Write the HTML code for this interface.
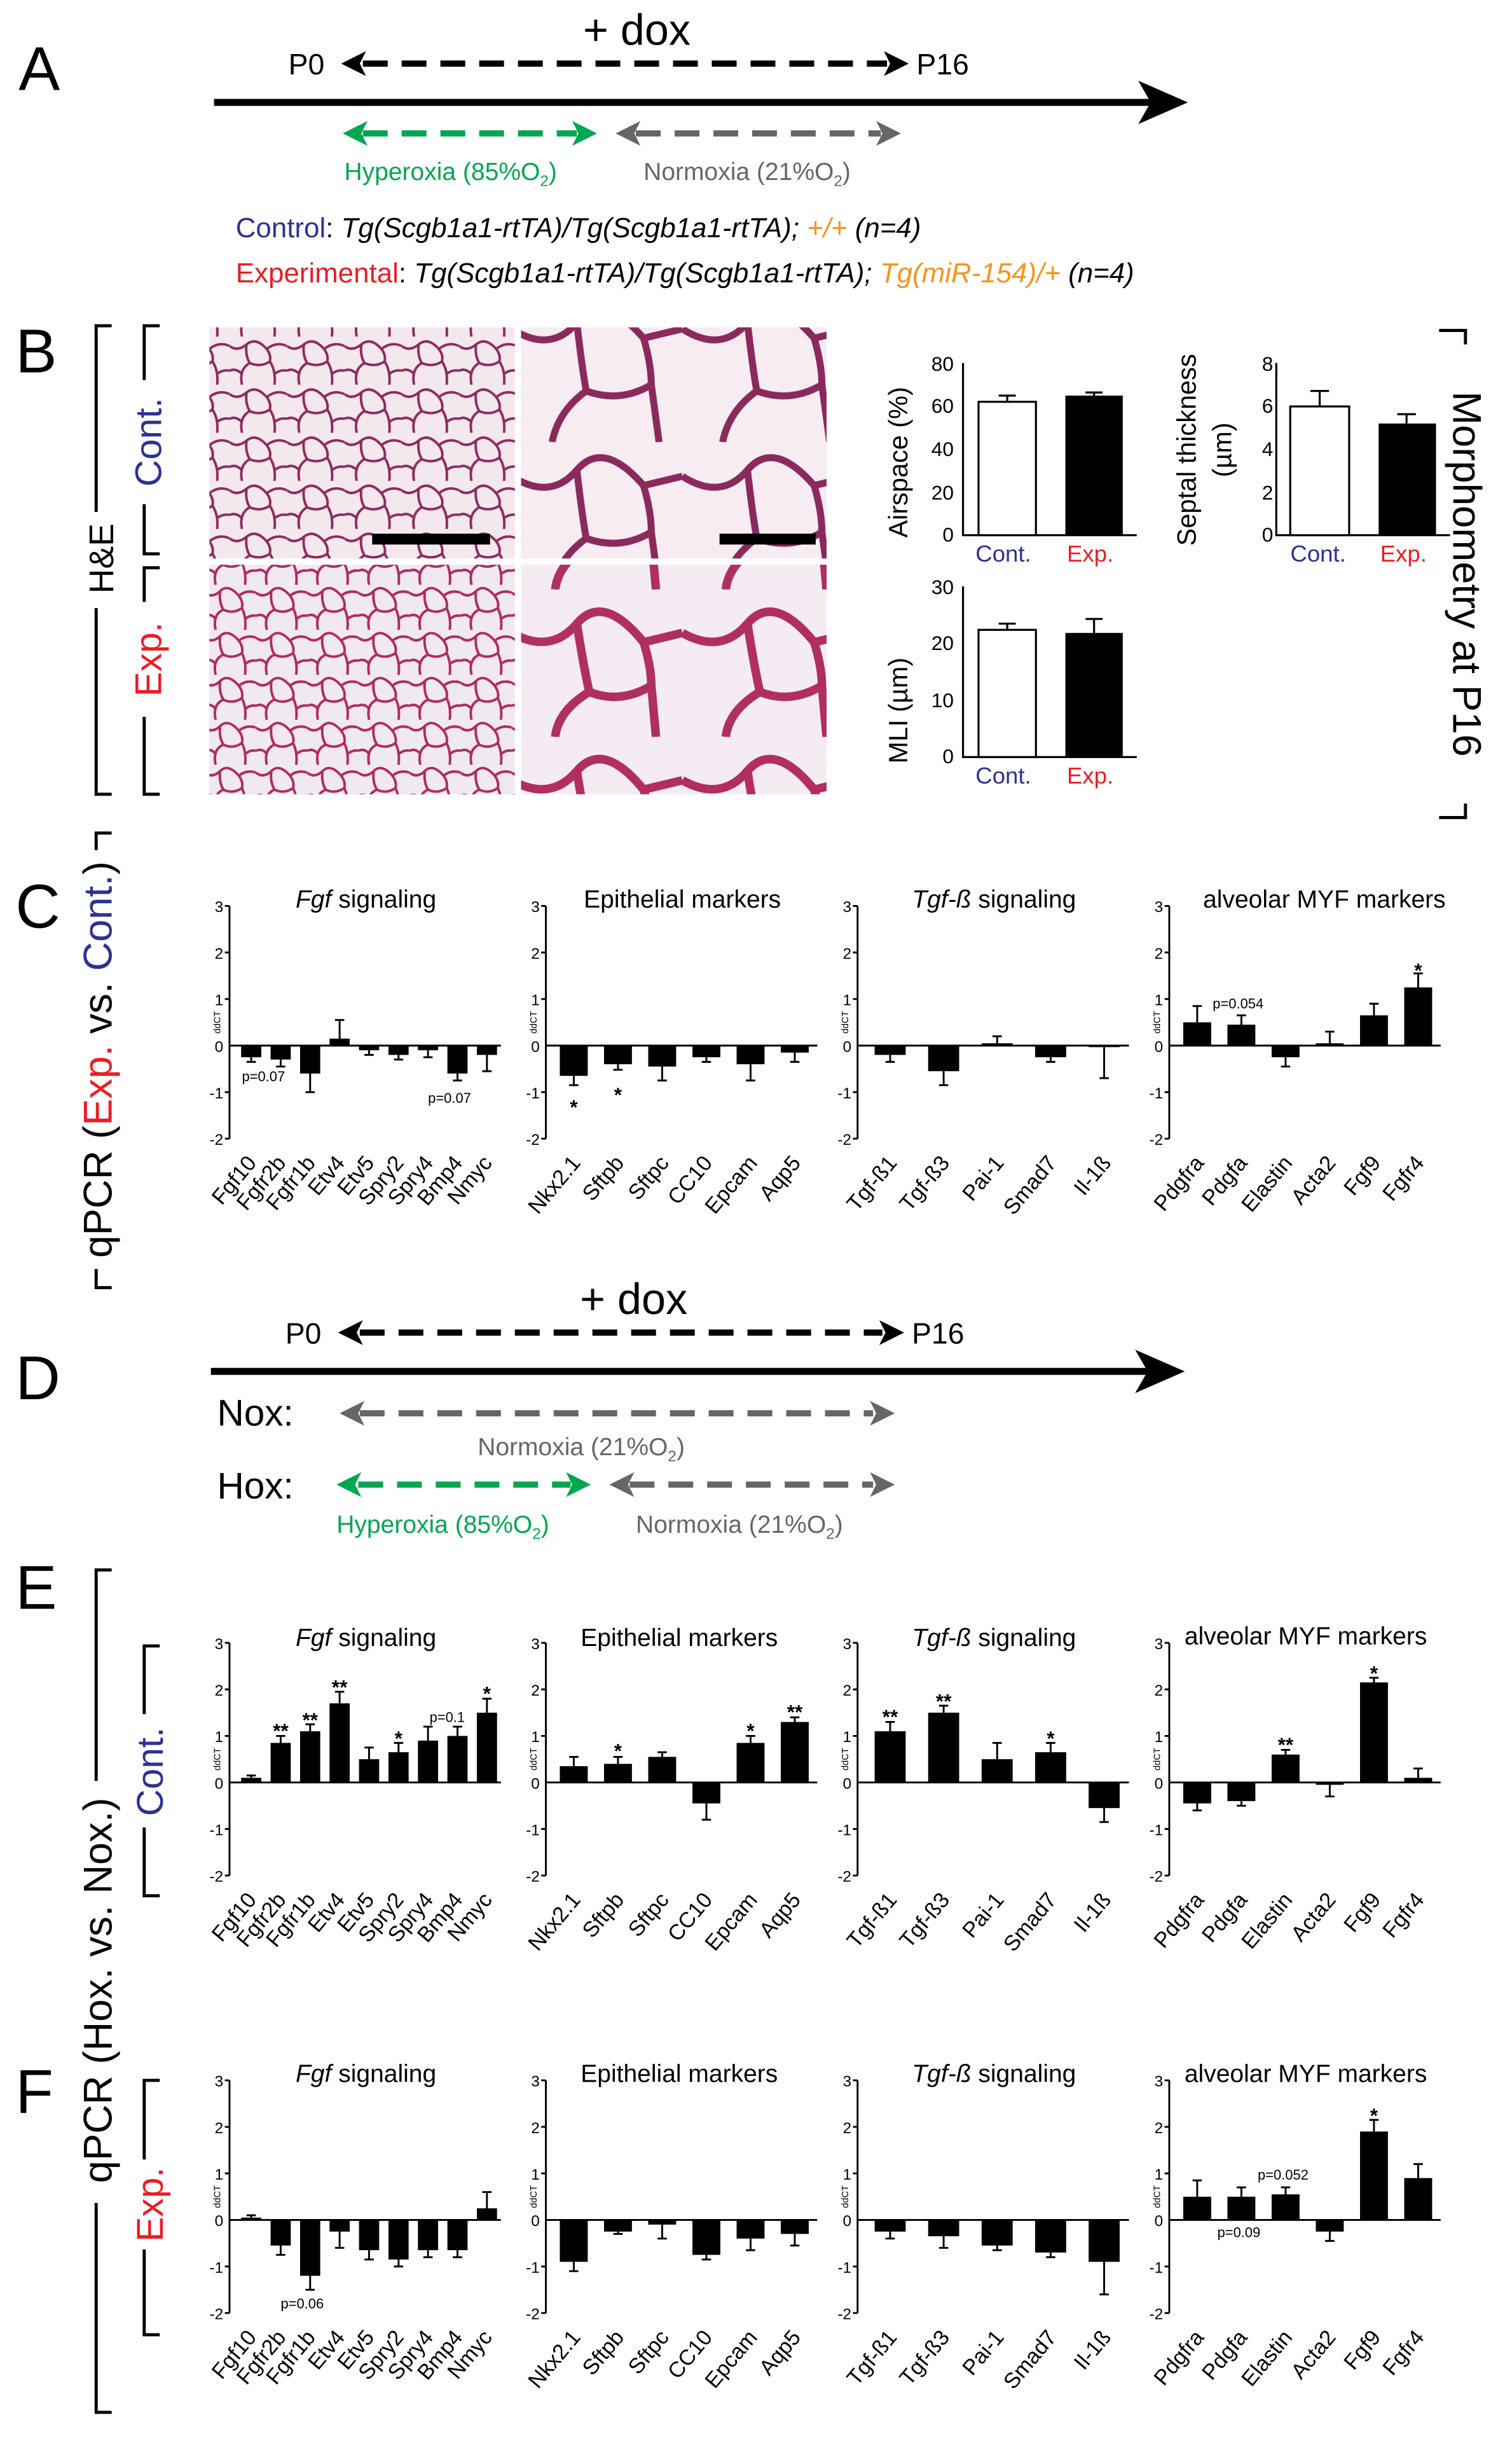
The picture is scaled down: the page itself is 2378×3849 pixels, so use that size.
<!DOCTYPE html>
<html><head><meta charset="utf-8"><style>
html,body{margin:0;padding:0;background:#fff}
svg{display:block}
text{font-family:"Liberation Sans",sans-serif}
.t{font-size:10px}
.xl{font-size:14px}
.ti{font-size:16px}
.st{font-size:13px;font-weight:bold}
</style></head><body>
<svg width="2378" height="3849" viewBox="0 0 975 1578" preserveAspectRatio="none" xmlns="http://www.w3.org/2000/svg">
<defs>
<pattern id="lo" width="37" height="31" patternUnits="userSpaceOnUse">
<rect width="37" height="31" fill="#f4e8ef"/>
<path d="M0 6 Q5 10 11 5 T24 8 Q30 3 37 6 M11 5 Q10 12 13 17 Q6 21 8 31 M13 17 Q20 20 26 16 Q30 22 29 31 M24 8 Q27 12 26 16 M0 22 Q4 20 8 24 M29 24 Q33 21 37 22" stroke="#8e2a5c" stroke-width="1.6" fill="none"/>
</pattern>
<pattern id="lo2" width="33" height="29" patternUnits="userSpaceOnUse">
<rect width="33" height="29" fill="#f1e9f1"/>
<path d="M0 5 Q5 9 10 4 T22 7 Q27 3 33 5 M10 4 Q9 11 12 16 Q5 19 7 29 M12 16 Q18 19 24 15 Q27 21 26 29 M22 7 Q25 11 24 15 M0 20 Q4 18 7 22 M26 22 Q30 19 33 20" stroke="#b02a5e" stroke-width="1.6" fill="none"/>
</pattern>
<pattern id="hi" width="110" height="95" patternUnits="userSpaceOnUse">
<rect width="110" height="95" fill="#f6ecf1"/>
<path d="M0 22 Q25 38 42 18 T85 28 L110 22 M42 18 Q45 45 48 62 Q30 75 26 95 M48 62 Q70 70 90 58 L95 95 M85 28 Q90 45 90 58" stroke="#8a2a5c" stroke-width="4.5" fill="none"/>
</pattern>
<pattern id="hi2" width="110" height="95" patternUnits="userSpaceOnUse">
<rect width="110" height="95" fill="#f4ecf2"/>
<path d="M0 28 Q25 42 42 22 T85 34 L110 28 M42 22 Q46 48 50 66 Q30 78 28 95 M50 66 Q70 74 90 62 L93 95 M85 34 Q90 50 90 62" stroke="#b02f60" stroke-width="5.5" fill="none"/>
</pattern>
</defs>

<!-- Panel A -->
<text x="12" y="58" font-size="40">A</text>
<text x="376" y="29" font-size="28">+ dox</text>
<text x="186" y="48" font-size="19">P0</text>
<line x1="234" y1="41" x2="572" y2="41" stroke="#000" stroke-width="4" stroke-dasharray="16 9"/>
<polygon points="220,41 236,33 232,41 236,49" fill="#000"/>
<polygon points="586,41 570,33 574,41 570,49" fill="#000"/>
<text x="591" y="48" font-size="19">P16</text>
<line x1="138" y1="66" x2="742" y2="66" stroke="#000" stroke-width="4.5"/>
<polygon points="766,66 734,52 742,66 734,80" fill="#000"/>
<line x1="234" y1="86" x2="372" y2="86" stroke="#00a651" stroke-width="4" stroke-dasharray="16 9"/>
<polygon points="221,86 237,78 233,86 237,94" fill="#00a651"/>
<polygon points="385,86 369,78 373,86 369,94" fill="#00a651"/>
<line x1="410" y1="86" x2="568" y2="86" stroke="#666" stroke-width="4" stroke-dasharray="16 9"/>
<polygon points="397,86 413,78 409,86 413,94" fill="#666"/>
<polygon points="581,86 565,78 569,86 565,94" fill="#666"/>
<text x="222" y="116" font-size="16" fill="#00a651">Hyperoxia (85%O<tspan font-size="10" dy="4">2</tspan><tspan dy="-4">)</tspan></text>
<text x="415" y="116" font-size="16" fill="#666">Normoxia (21%O<tspan font-size="10" dy="4">2</tspan><tspan dy="-4">)</tspan></text>
<text x="152" y="153" font-size="18"><tspan fill="#2e3192">Control</tspan>: <tspan font-style="italic">Tg(Scgb1a1-rtTA)/Tg(Scgb1a1-rtTA); <tspan fill="#f7941d">+/+</tspan> (n=4)</tspan></text>
<text x="152" y="182" font-size="18"><tspan fill="#ed1c24">Experimental</tspan>: <tspan font-style="italic">Tg(Scgb1a1-rtTA)/Tg(Scgb1a1-rtTA); <tspan fill="#f7941d">Tg(miR-154)/+</tspan> (n=4)</tspan></text>

<!-- Panel B -->
<text x="10" y="240" font-size="40">B</text>
<path d="M72 210 H62 V330 M62 392 V512 H72" stroke="#000" stroke-width="2" fill="none"/>
<text transform="translate(73,360) rotate(-90)" text-anchor="middle" font-size="22">H&amp;E</text>
<path d="M103 210 H93 V245 M93 325 V357 H103" stroke="#000" stroke-width="2" fill="none"/>
<text transform="translate(104,285) rotate(-90)" text-anchor="middle" font-size="24" fill="#2e3192">Cont.</text>
<path d="M103 366 H93 V388 M93 462 V512 H103" stroke="#000" stroke-width="2" fill="none"/>
<text transform="translate(104,425) rotate(-90)" text-anchor="middle" font-size="24" fill="#ed1c24">Exp.</text>
<rect x="135" y="211" width="197" height="149" fill="url(#lo)"/>
<rect x="336" y="211" width="197" height="149" fill="url(#hi)"/>
<rect x="135" y="364" width="197" height="148" fill="url(#lo2)"/>
<rect x="336" y="364" width="197" height="148" fill="url(#hi2)"/>
<rect x="240" y="344" width="76" height="7" fill="#000"/>
<rect x="464" y="344" width="62" height="7" fill="#000"/>

<g font-size="13" text-anchor="end">
<text x="615" y="239">80</text><text x="615" y="266">60</text><text x="615" y="294">40</text><text x="615" y="322">20</text><text x="615" y="349">0</text>
<text x="821" y="239">8</text><text x="821" y="266">6</text><text x="821" y="294">4</text><text x="821" y="322">2</text><text x="821" y="349">0</text>
<text x="615" y="383">30</text><text x="615" y="419">20</text><text x="615" y="456">10</text><text x="615" y="492">0</text>
</g>
<path d="M621 234 V345 H733" stroke="#000" stroke-width="1.3" fill="none"/>
<rect x="631" y="259" width="37" height="86" fill="#fff" stroke="#000" stroke-width="1.3"/>
<path d="M649.5 259 V255 M644 255 H655" stroke="#000" stroke-width="1.3"/>
<rect x="687" y="255" width="37" height="90" fill="#000"/>
<path d="M705.5 255 V253 M700 253 H711" stroke="#000" stroke-width="1.3"/>
<path d="M823 234 V345 H935" stroke="#000" stroke-width="1.3" fill="none"/>
<rect x="832" y="262" width="38" height="83" fill="#fff" stroke="#000" stroke-width="1.3"/>
<path d="M851 262 V252 M845 252 H857" stroke="#000" stroke-width="1.3"/>
<rect x="889" y="273" width="37" height="72" fill="#000"/>
<path d="M907 273 V267 M901 267 H913" stroke="#000" stroke-width="1.3"/>
<path d="M621 378 V488 H733" stroke="#000" stroke-width="1.3" fill="none"/>
<rect x="631" y="406" width="37" height="82" fill="#fff" stroke="#000" stroke-width="1.3"/>
<path d="M649.5 406 V402 M644 402 H655" stroke="#000" stroke-width="1.3"/>
<rect x="687" y="408" width="37" height="80" fill="#000"/>
<path d="M705.5 408 V399 M700 399 H711" stroke="#000" stroke-width="1.3"/>
<g font-size="17" text-anchor="middle">
<text transform="translate(585,298) rotate(-90)">Airspace (%)</text>
<text transform="translate(771,290) rotate(-90)">Septal thickness</text>
<text transform="translate(794,290) rotate(-90)">(µm)</text>
<text transform="translate(585,458) rotate(-90)">MLI (µm)</text>
</g>
<g font-size="15" text-anchor="middle">
<text x="647" y="362" fill="#2e3192">Cont.</text><text x="703" y="362" fill="#ed1c24">Exp.</text>
<text x="850" y="362" fill="#2e3192">Cont.</text><text x="905" y="362" fill="#ed1c24">Exp.</text>
<text x="647" y="505" fill="#2e3192">Cont.</text><text x="703" y="505" fill="#ed1c24">Exp.</text>
</g>
<path d="M928 213 H945 V222 M945 518 V527 H928" stroke="#000" stroke-width="2" fill="none"/>
<text transform="translate(937,370) rotate(90)" text-anchor="middle" font-size="26">Morphometry at P16</text>

<!-- Panel C -->
<text x="10" y="598" font-size="40">C</text>
<path d="M72 537 H62 V548 M62 818 V830 H72" stroke="#000" stroke-width="2" fill="none"/>
<text transform="translate(72,683) rotate(-90)" text-anchor="middle" font-size="26">qPCR (<tspan fill="#ed1c24">Exp.</tspan> vs. <tspan fill="#2e3192">Cont.</tspan>)</text>

<!-- chart C1 -->
<g transform="translate(148,674)">
<path d="M0 -90 V60 M0 0 H175 M-3 -90 H0 M-3 -60 H0 M-3 -30 H0 M-3 30 H0 M-3 60 H0" stroke="#000" stroke-width="1.2" fill="none"/>
<g class="t" text-anchor="end"><text x="-4" y="-86">3</text><text x="-4" y="-56">2</text><text x="-4" y="-26">1</text><text x="-4" y="4">0</text><text x="-4" y="34">-1</text><text x="-4" y="64">-2</text></g>
<text transform="translate(-6,-15) rotate(-90)" font-size="6" text-anchor="middle">ddCT</text>
<text x="88" y="-89" class="ti" text-anchor="middle"><tspan font-style="italic">Fgf</tspan> signaling</text>
<g fill="#000">
<rect x="7.5" y="0" width="13" height="7.5"/><rect x="26.5" y="0" width="13" height="9"/><rect x="45.5" y="0" width="13" height="18"/><rect x="64.5" y="-4.5" width="13" height="4.5"/><rect x="83.5" y="0" width="13" height="3"/><rect x="102.5" y="0" width="13" height="6"/><rect x="121.5" y="0" width="13" height="3"/><rect x="140.5" y="0" width="13" height="18"/><rect x="159.5" y="0" width="13" height="6"/>
</g>
<path d="M14 7 V10.5 M11 10.5 H17 M33 9 V13.5 M30 13.5 H36 M52 18 V30 M49 30 H55 M71 0 V-16.5 M68 -16.5 H74 M90 3 V6 M87 6 H93 M109 6 V9 M106 9 H112 M128 3 V7.5 M125 7.5 H131 M147 18 V22.5 M144 22.5 H150 M166 6 V16.5 M163 16.5 H169" stroke="#000" stroke-width="1.2"/>
<text x="8" y="23" font-size="9">p=0.07</text><text x="128" y="37" font-size="9">p=0.07</text>
<g class="xl" text-anchor="end">
<text transform="translate(18,76) rotate(-50)">Fgf10</text><text transform="translate(37,76) rotate(-50)">Fgfr2b</text><text transform="translate(56,76) rotate(-50)">Fgfr1b</text><text transform="translate(75,76) rotate(-50)">Etv4</text><text transform="translate(94,76) rotate(-50)">Etv5</text><text transform="translate(113,76) rotate(-50)">Spry2</text><text transform="translate(132,76) rotate(-50)">Spry4</text><text transform="translate(151,76) rotate(-50)">Bmp4</text><text transform="translate(170,76) rotate(-50)">Nmyc</text>
</g>
</g>

<!-- chart C2 -->
<g transform="translate(352,674)">
<path d="M0 -90 V60 M0 0 H175 M-3 -90 H0 M-3 -60 H0 M-3 -30 H0 M-3 30 H0 M-3 60 H0" stroke="#000" stroke-width="1.2" fill="none"/>
<g class="t" text-anchor="end"><text x="-4" y="-86">3</text><text x="-4" y="-56">2</text><text x="-4" y="-26">1</text><text x="-4" y="4">0</text><text x="-4" y="34">-1</text><text x="-4" y="64">-2</text></g>
<text transform="translate(-6,-15) rotate(-90)" font-size="6" text-anchor="middle">ddCT</text>
<text x="88" y="-89" class="ti" text-anchor="middle">Epithelial markers</text>
<g fill="#000"><rect x="9" y="0" width="18" height="19.5"/><rect x="37.5" y="0" width="18" height="12"/><rect x="66" y="0" width="18" height="13.5"/><rect x="94.5" y="0" width="18" height="7.5"/><rect x="123" y="0" width="18" height="12"/><rect x="151.5" y="0" width="18" height="4.5"/></g>
<path d="M18 19 V25.5 M15 25.5 H21 M46.5 12 V15.6 M43.5 15.6 H49.5 M75 13 V22.5 M72 22.5 H78 M103.5 7 V10.5 M100.5 10.5 H106.5 M132 12 V22.5 M129 22.5 H135 M160.5 4 V10.5 M157.5 10.5 H163.5" stroke="#000" stroke-width="1.2"/>
<text x="18" y="44" class="st" text-anchor="middle">*</text><text x="46.5" y="36" class="st" text-anchor="middle">*</text>
<g class="xl" text-anchor="end">
<text transform="translate(23,76) rotate(-50)">Nkx2.1</text><text transform="translate(51,76) rotate(-50)">Sftpb</text><text transform="translate(80,76) rotate(-50)">Sftpc</text><text transform="translate(108,76) rotate(-50)">CC10</text><text transform="translate(137,76) rotate(-50)">Epcam</text><text transform="translate(165,76) rotate(-50)">Aqp5</text>
</g>
</g>

<!-- chart C3 -->
<g transform="translate(553,674)">
<path d="M0 -90 V60 M0 0 H175 M-3 -90 H0 M-3 -60 H0 M-3 -30 H0 M-3 30 H0 M-3 60 H0" stroke="#000" stroke-width="1.2" fill="none"/>
<g class="t" text-anchor="end"><text x="-4" y="-86">3</text><text x="-4" y="-56">2</text><text x="-4" y="-26">1</text><text x="-4" y="4">0</text><text x="-4" y="34">-1</text><text x="-4" y="64">-2</text></g>
<text transform="translate(-6,-15) rotate(-90)" font-size="6" text-anchor="middle">ddCT</text>
<text x="88" y="-89" class="ti" text-anchor="middle"><tspan font-style="italic">Tgf-ß</tspan> signaling</text>
<g fill="#000"><rect x="11" y="0" width="20" height="6"/><rect x="45.5" y="0" width="20" height="16.5"/><rect x="80" y="-1.5" width="20" height="1.5"/><rect x="114.5" y="0" width="20" height="7.5"/><rect x="149" y="0" width="20" height="1"/></g>
<path d="M21 6 V10.5 M18 10.5 H24 M55.5 16 V25.5 M52.5 25.5 H58.5 M90 -1 V-6 M87 -6 H93 M124.5 7 V10.5 M121.5 10.5 H127.5 M159 1 V21 M156 21 H162" stroke="#000" stroke-width="1.2"/>
<g class="xl" text-anchor="end">
<text transform="translate(26,76) rotate(-50)">Tgf-ß1</text><text transform="translate(60,76) rotate(-50)">Tgf-ß3</text><text transform="translate(95,76) rotate(-50)">Pai-1</text><text transform="translate(129,76) rotate(-50)">Smad7</text><text transform="translate(164,76) rotate(-50)">Il-1ß</text>
</g>
</g>

<!-- chart C4 -->
<g transform="translate(754,674)">
<path d="M0 -90 V60 M0 0 H175 M-3 -90 H0 M-3 -60 H0 M-3 -30 H0 M-3 30 H0 M-3 60 H0" stroke="#000" stroke-width="1.2" fill="none"/>
<g class="t" text-anchor="end"><text x="-4" y="-86">3</text><text x="-4" y="-56">2</text><text x="-4" y="-26">1</text><text x="-4" y="4">0</text><text x="-4" y="34">-1</text><text x="-4" y="64">-2</text></g>
<text transform="translate(-6,-15) rotate(-90)" font-size="6" text-anchor="middle">ddCT</text>
<text x="100" y="-89" class="ti" text-anchor="middle">alveolar MYF markers</text>
<g fill="#000"><rect x="9" y="-15" width="18" height="15"/><rect x="37.5" y="-13.5" width="18" height="13.5"/><rect x="66" y="0" width="18" height="7.5"/><rect x="94.5" y="-1.5" width="18" height="1.5"/><rect x="123" y="-19.5" width="18" height="19.5"/><rect x="151.5" y="-37.5" width="18" height="37.5"/></g>
<path d="M18 -15 V-25.5 M15 -25.5 H21 M46.5 -13 V-19.5 M43.5 -19.5 H49.5 M75 7 V13.5 M72 13.5 H78 M103.5 -1 V-9 M100.5 -9 H106.5 M132 -19 V-27 M129 -27 H135 M160.5 -37 V-46.5 M157.5 -46.5 H163.5" stroke="#000" stroke-width="1.2"/>
<text x="28" y="-24" font-size="9">p=0.054</text>
<text x="160.5" y="-44" class="st" text-anchor="middle">*</text>
<g class="xl" text-anchor="end">
<text transform="translate(23,76) rotate(-50)">Pdgfra</text><text transform="translate(51,76) rotate(-50)">Pdgfa</text><text transform="translate(80,76) rotate(-50)">Elastin</text><text transform="translate(108,76) rotate(-50)">Acta2</text><text transform="translate(137,76) rotate(-50)">Fgf9</text><text transform="translate(165,76) rotate(-50)">Fgfr4</text>
</g>
</g>

<!-- Panel D -->
<text x="10" y="902" font-size="40">D</text>
<text x="374" y="847" font-size="28">+ dox</text>
<text x="184" y="866" font-size="19">P0</text>
<line x1="232" y1="859" x2="569" y2="859" stroke="#000" stroke-width="4" stroke-dasharray="16 9"/>
<polygon points="218,859 234,851 230,859 234,867" fill="#000"/>
<polygon points="583,859 567,851 571,859 567,867" fill="#000"/>
<text x="588" y="866" font-size="19">P16</text>
<line x1="136" y1="884" x2="740" y2="884" stroke="#000" stroke-width="4.5"/>
<polygon points="764,884 732,870 740,884 732,898" fill="#000"/>
<text x="140" y="919" font-size="24">Nox:</text>
<line x1="232" y1="911" x2="563" y2="911" stroke="#666" stroke-width="4" stroke-dasharray="16 9"/>
<polygon points="219,911 235,903 231,911 235,919" fill="#666"/>
<polygon points="577,911 561,903 565,911 561,919" fill="#666"/>
<text x="308" y="938" font-size="16" fill="#666">Normoxia (21%O<tspan font-size="10" dy="4">2</tspan><tspan dy="-4">)</tspan></text>
<text x="140" y="966" font-size="24">Hox:</text>
<line x1="231" y1="957" x2="368" y2="957" stroke="#00a651" stroke-width="4" stroke-dasharray="16 9"/>
<polygon points="217,957 233,949 229,957 233,965" fill="#00a651"/>
<polygon points="381,957 365,949 369,957 365,965" fill="#00a651"/>
<line x1="406" y1="957" x2="563" y2="957" stroke="#666" stroke-width="4" stroke-dasharray="16 9"/>
<polygon points="393,957 409,949 405,957 409,965" fill="#666"/>
<polygon points="577,957 561,949 565,957 561,965" fill="#666"/>
<text x="217" y="988" font-size="16" fill="#00a651">Hyperoxia (85%O<tspan font-size="10" dy="4">2</tspan><tspan dy="-4">)</tspan></text>
<text x="410" y="988" font-size="16" fill="#666">Normoxia (21%O<tspan font-size="10" dy="4">2</tspan><tspan dy="-4">)</tspan></text>

<!-- Left brackets E/F -->
<text x="10" y="1037" font-size="40">E</text>
<text x="10" y="1362" font-size="40">F</text>
<path d="M72 1012 H62 V1148 M62 1420 V1555 H72" stroke="#000" stroke-width="2" fill="none"/>
<text transform="translate(72,1283) rotate(-90)" text-anchor="middle" font-size="26">qPCR (Hox. vs. Nox.)</text>
<path d="M103 1061 H93 V1105 M93 1178 V1222 H103" stroke="#000" stroke-width="2" fill="none"/>
<text transform="translate(105,1142) rotate(-90)" text-anchor="middle" font-size="24" fill="#2e3192">Cont.</text>
<path d="M103 1341 H93 V1392 M93 1450 V1505 H103" stroke="#000" stroke-width="2" fill="none"/>
<text transform="translate(105,1421) rotate(-90)" text-anchor="middle" font-size="24" fill="#ed1c24">Exp.</text>

<!-- chart E1 -->
<g transform="translate(148,1149)">
<path d="M0 -90 V60 M0 0 H175 M-3 -90 H0 M-3 -60 H0 M-3 -30 H0 M-3 30 H0 M-3 60 H0" stroke="#000" stroke-width="1.2" fill="none"/>
<g class="t" text-anchor="end"><text x="-4" y="-86">3</text><text x="-4" y="-56">2</text><text x="-4" y="-26">1</text><text x="-4" y="4">0</text><text x="-4" y="34">-1</text><text x="-4" y="64">-2</text></g>
<text transform="translate(-6,-15) rotate(-90)" font-size="6" text-anchor="middle">ddCT</text>
<text x="88" y="-88" class="ti" text-anchor="middle"><tspan font-style="italic">Fgf</tspan> signaling</text>
<g fill="#000"><rect x="7.5" y="-3" width="13" height="3"/><rect x="26.5" y="-25.5" width="13" height="25.5"/><rect x="45.5" y="-33" width="13" height="33"/><rect x="64.5" y="-51" width="13" height="51"/><rect x="83.5" y="-15" width="13" height="15"/><rect x="102.5" y="-19.5" width="13" height="19.5"/><rect x="121.5" y="-27" width="13" height="27"/><rect x="140.5" y="-30" width="13" height="30"/><rect x="159.5" y="-45" width="13" height="45"/></g>
<path d="M14 -3 V-4.5 M11 -4.5 H17 M33 -25 V-30 M30 -30 H36 M52 -33 V-37.5 M49 -37.5 H55 M71 -51 V-58.5 M68 -58.5 H74 M90 -15 V-22.5 M87 -22.5 H93 M109 -19 V-25.5 M106 -25.5 H112 M128 -27 V-36 M125 -36 H131 M147 -30 V-36 M144 -36 H150 M166 -45 V-54 M163 -54 H169" stroke="#000" stroke-width="1.2"/>
<g class="st" text-anchor="middle"><text x="33" y="-29">**</text><text x="52" y="-36">**</text><text x="71" y="-57">**</text><text x="109" y="-24">*</text><text x="166" y="-53">*</text></g>
<text x="129" y="-39" font-size="9">p=0.1</text>
<g class="xl" text-anchor="end">
<text transform="translate(18,76) rotate(-50)">Fgf10</text><text transform="translate(37,76) rotate(-50)">Fgfr2b</text><text transform="translate(56,76) rotate(-50)">Fgfr1b</text><text transform="translate(75,76) rotate(-50)">Etv4</text><text transform="translate(94,76) rotate(-50)">Etv5</text><text transform="translate(113,76) rotate(-50)">Spry2</text><text transform="translate(132,76) rotate(-50)">Spry4</text><text transform="translate(151,76) rotate(-50)">Bmp4</text><text transform="translate(170,76) rotate(-50)">Nmyc</text>
</g>
</g>

<!-- chart E2 -->
<g transform="translate(352,1149)">
<path d="M0 -90 V60 M0 0 H175 M-3 -90 H0 M-3 -60 H0 M-3 -30 H0 M-3 30 H0 M-3 60 H0" stroke="#000" stroke-width="1.2" fill="none"/>
<g class="t" text-anchor="end"><text x="-4" y="-86">3</text><text x="-4" y="-56">2</text><text x="-4" y="-26">1</text><text x="-4" y="4">0</text><text x="-4" y="34">-1</text><text x="-4" y="64">-2</text></g>
<text transform="translate(-6,-15) rotate(-90)" font-size="6" text-anchor="middle">ddCT</text>
<text x="86" y="-88" class="ti" text-anchor="middle">Epithelial markers</text>
<g fill="#000"><rect x="9" y="-10.5" width="18" height="10.5"/><rect x="37.5" y="-12" width="18" height="12"/><rect x="66" y="-16.5" width="18" height="16.5"/><rect x="94.5" y="0" width="18" height="13.5"/><rect x="123" y="-25.5" width="18" height="25.5"/><rect x="151.5" y="-39" width="18" height="39"/></g>
<path d="M18 -10 V-16.5 M15 -16.5 H21 M46.5 -12 V-16.5 M43.5 -16.5 H49.5 M75 -16 V-19.5 M72 -19.5 H78 M103.5 13 V24 M100.5 24 H106.5 M132 -25 V-30 M129 -30 H135 M160.5 -39 V-42 M157.5 -42 H163.5" stroke="#000" stroke-width="1.2"/>
<g class="st" text-anchor="middle"><text x="46.5" y="-16">*</text><text x="132" y="-29">*</text><text x="160.5" y="-41">**</text></g>
<g class="xl" text-anchor="end">
<text transform="translate(23,76) rotate(-50)">Nkx2.1</text><text transform="translate(51,76) rotate(-50)">Sftpb</text><text transform="translate(80,76) rotate(-50)">Sftpc</text><text transform="translate(108,76) rotate(-50)">CC10</text><text transform="translate(137,76) rotate(-50)">Epcam</text><text transform="translate(165,76) rotate(-50)">Aqp5</text>
</g>
</g>

<!-- chart E3 -->
<g transform="translate(553,1149)">
<path d="M0 -90 V60 M0 0 H175 M-3 -90 H0 M-3 -60 H0 M-3 -30 H0 M-3 30 H0 M-3 60 H0" stroke="#000" stroke-width="1.2" fill="none"/>
<g class="t" text-anchor="end"><text x="-4" y="-86">3</text><text x="-4" y="-56">2</text><text x="-4" y="-26">1</text><text x="-4" y="4">0</text><text x="-4" y="34">-1</text><text x="-4" y="64">-2</text></g>
<text transform="translate(-6,-15) rotate(-90)" font-size="6" text-anchor="middle">ddCT</text>
<text x="88" y="-88" class="ti" text-anchor="middle"><tspan font-style="italic">Tgf-ß</tspan> signaling</text>
<g fill="#000"><rect x="11" y="-33" width="20" height="33"/><rect x="45.5" y="-45" width="20" height="45"/><rect x="80" y="-15" width="20" height="15"/><rect x="114.5" y="-19.5" width="20" height="19.5"/><rect x="149" y="0" width="20" height="16.5"/></g>
<path d="M21 -33 V-39 M18 -39 H24 M55.5 -45 V-49.5 M52.5 -49.5 H58.5 M90 -15 V-25.5 M87 -25.5 H93 M124.5 -19 V-25.5 M121.5 -25.5 H127.5 M159 16 V25.5 M156 25.5 H162" stroke="#000" stroke-width="1.2"/>
<g class="st" text-anchor="middle"><text x="21" y="-38">**</text><text x="55.5" y="-48">**</text><text x="124.5" y="-24">*</text></g>
<g class="xl" text-anchor="end">
<text transform="translate(26,76) rotate(-50)">Tgf-ß1</text><text transform="translate(60,76) rotate(-50)">Tgf-ß3</text><text transform="translate(95,76) rotate(-50)">Pai-1</text><text transform="translate(129,76) rotate(-50)">Smad7</text><text transform="translate(164,76) rotate(-50)">Il-1ß</text>
</g>
</g>

<!-- chart E4 -->
<g transform="translate(754,1149)">
<path d="M0 -90 V60 M0 0 H175 M-3 -90 H0 M-3 -60 H0 M-3 -30 H0 M-3 30 H0 M-3 60 H0" stroke="#000" stroke-width="1.2" fill="none"/>
<g class="t" text-anchor="end"><text x="-4" y="-86">3</text><text x="-4" y="-56">2</text><text x="-4" y="-26">1</text><text x="-4" y="4">0</text><text x="-4" y="34">-1</text><text x="-4" y="64">-2</text></g>
<text transform="translate(-6,-15) rotate(-90)" font-size="6" text-anchor="middle">ddCT</text>
<text x="88" y="-89" class="ti" text-anchor="middle">alveolar MYF markers</text>
<g fill="#000"><rect x="9" y="0" width="18" height="13.5"/><rect x="37.5" y="0" width="18" height="12"/><rect x="66" y="-18" width="18" height="18"/><rect x="94.5" y="0" width="18" height="1.5"/><rect x="123" y="-64.5" width="18" height="64.5"/><rect x="151.5" y="-3" width="18" height="3"/></g>
<path d="M18 13 V18 M15 18 H21 M46.5 12 V15 M43.5 15 H49.5 M75 -18 V-21 M72 -21 H78 M103.5 1 V9 M100.5 9 H106.5 M132 -64 V-67.5 M129 -67.5 H135 M160.5 -3 V-9 M157.5 -9 H163.5" stroke="#000" stroke-width="1.2"/>
<g class="st" text-anchor="middle"><text x="75" y="-20">**</text><text x="132" y="-66">*</text></g>
<g class="xl" text-anchor="end">
<text transform="translate(23,76) rotate(-50)">Pdgfra</text><text transform="translate(51,76) rotate(-50)">Pdgfa</text><text transform="translate(80,76) rotate(-50)">Elastin</text><text transform="translate(108,76) rotate(-50)">Acta2</text><text transform="translate(137,76) rotate(-50)">Fgf9</text><text transform="translate(165,76) rotate(-50)">Fgfr4</text>
</g>
</g>

<!-- chart F1 -->
<g transform="translate(148,1431)">
<path d="M0 -90 V60 M0 0 H175 M-3 -90 H0 M-3 -60 H0 M-3 -30 H0 M-3 30 H0 M-3 60 H0" stroke="#000" stroke-width="1.2" fill="none"/>
<g class="t" text-anchor="end"><text x="-4" y="-86">3</text><text x="-4" y="-56">2</text><text x="-4" y="-26">1</text><text x="-4" y="4">0</text><text x="-4" y="34">-1</text><text x="-4" y="64">-2</text></g>
<text transform="translate(-6,-15) rotate(-90)" font-size="6" text-anchor="middle">ddCT</text>
<text x="88" y="-89" class="ti" text-anchor="middle"><tspan font-style="italic">Fgf</tspan> signaling</text>
<g fill="#000"><rect x="7.5" y="-1.5" width="13" height="1.5"/><rect x="26.5" y="0" width="13" height="16.5"/><rect x="45.5" y="0" width="13" height="36"/><rect x="64.5" y="0" width="13" height="7.5"/><rect x="83.5" y="0" width="13" height="19.5"/><rect x="102.5" y="0" width="13" height="25.5"/><rect x="121.5" y="0" width="13" height="19.5"/><rect x="140.5" y="0" width="13" height="19.5"/><rect x="159.5" y="-7.5" width="13" height="7.5"/></g>
<path d="M14 -1 V-3 M11 -3 H17 M33 16 V22.5 M30 22.5 H36 M52 36 V45 M49 45 H55 M71 7 V18 M68 18 H74 M90 19 V25.5 M87 25.5 H93 M109 25 V30 M106 30 H112 M128 19 V24 M125 24 H131 M147 19 V24 M144 24 H150 M166 -7 V-18 M163 -18 H169" stroke="#000" stroke-width="1.2"/>
<text x="33" y="57" font-size="9">p=0.06</text>
<g class="xl" text-anchor="end">
<text transform="translate(18,76) rotate(-50)">Fgf10</text><text transform="translate(37,76) rotate(-50)">Fgfr2b</text><text transform="translate(56,76) rotate(-50)">Fgfr1b</text><text transform="translate(75,76) rotate(-50)">Etv4</text><text transform="translate(94,76) rotate(-50)">Etv5</text><text transform="translate(113,76) rotate(-50)">Spry2</text><text transform="translate(132,76) rotate(-50)">Spry4</text><text transform="translate(151,76) rotate(-50)">Bmp4</text><text transform="translate(170,76) rotate(-50)">Nmyc</text>
</g>
</g>

<!-- chart F2 -->
<g transform="translate(352,1431)">
<path d="M0 -90 V60 M0 0 H175 M-3 -90 H0 M-3 -60 H0 M-3 -30 H0 M-3 30 H0 M-3 60 H0" stroke="#000" stroke-width="1.2" fill="none"/>
<g class="t" text-anchor="end"><text x="-4" y="-86">3</text><text x="-4" y="-56">2</text><text x="-4" y="-26">1</text><text x="-4" y="4">0</text><text x="-4" y="34">-1</text><text x="-4" y="64">-2</text></g>
<text transform="translate(-6,-15) rotate(-90)" font-size="6" text-anchor="middle">ddCT</text>
<text x="86" y="-89" class="ti" text-anchor="middle">Epithelial markers</text>
<g fill="#000"><rect x="9" y="0" width="18" height="27"/><rect x="37.5" y="0" width="18" height="7.5"/><rect x="66" y="0" width="18" height="3"/><rect x="94.5" y="0" width="18" height="22.5"/><rect x="123" y="0" width="18" height="12"/><rect x="151.5" y="0" width="18" height="9"/></g>
<path d="M18 27 V33 M15 33 H21 M46.5 7 V9 M43.5 9 H49.5 M75 3 V12 M72 12 H78 M103.5 22 V25.5 M100.5 25.5 H106.5 M132 12 V19.5 M129 19.5 H135 M160.5 9 V16.5 M157.5 16.5 H163.5" stroke="#000" stroke-width="1.2"/>
<g class="xl" text-anchor="end">
<text transform="translate(23,76) rotate(-50)">Nkx2.1</text><text transform="translate(51,76) rotate(-50)">Sftpb</text><text transform="translate(80,76) rotate(-50)">Sftpc</text><text transform="translate(108,76) rotate(-50)">CC10</text><text transform="translate(137,76) rotate(-50)">Epcam</text><text transform="translate(165,76) rotate(-50)">Aqp5</text>
</g>
</g>

<!-- chart F3 -->
<g transform="translate(553,1431)">
<path d="M0 -90 V60 M0 0 H175 M-3 -90 H0 M-3 -60 H0 M-3 -30 H0 M-3 30 H0 M-3 60 H0" stroke="#000" stroke-width="1.2" fill="none"/>
<g class="t" text-anchor="end"><text x="-4" y="-86">3</text><text x="-4" y="-56">2</text><text x="-4" y="-26">1</text><text x="-4" y="4">0</text><text x="-4" y="34">-1</text><text x="-4" y="64">-2</text></g>
<text transform="translate(-6,-15) rotate(-90)" font-size="6" text-anchor="middle">ddCT</text>
<text x="88" y="-89" class="ti" text-anchor="middle"><tspan font-style="italic">Tgf-ß</tspan> signaling</text>
<g fill="#000"><rect x="11" y="0" width="20" height="7.5"/><rect x="45.5" y="0" width="20" height="10.5"/><rect x="80" y="0" width="20" height="16.5"/><rect x="114.5" y="0" width="20" height="21"/><rect x="149" y="0" width="20" height="27"/></g>
<path d="M21 7 V12 M18 12 H24 M55.5 10 V18 M52.5 18 H58.5 M90 16 V19.5 M87 19.5 H93 M124.5 21 V24 M121.5 24 H127.5 M159 27 V48 M156 48 H162" stroke="#000" stroke-width="1.2"/>
<g class="xl" text-anchor="end">
<text transform="translate(26,76) rotate(-50)">Tgf-ß1</text><text transform="translate(60,76) rotate(-50)">Tgf-ß3</text><text transform="translate(95,76) rotate(-50)">Pai-1</text><text transform="translate(129,76) rotate(-50)">Smad7</text><text transform="translate(164,76) rotate(-50)">Il-1ß</text>
</g>
</g>

<!-- chart F4 -->
<g transform="translate(754,1431)">
<path d="M0 -90 V60 M0 0 H175 M-3 -90 H0 M-3 -60 H0 M-3 -30 H0 M-3 30 H0 M-3 60 H0" stroke="#000" stroke-width="1.2" fill="none"/>
<g class="t" text-anchor="end"><text x="-4" y="-86">3</text><text x="-4" y="-56">2</text><text x="-4" y="-26">1</text><text x="-4" y="4">0</text><text x="-4" y="34">-1</text><text x="-4" y="64">-2</text></g>
<text transform="translate(-6,-15) rotate(-90)" font-size="6" text-anchor="middle">ddCT</text>
<text x="88" y="-89" class="ti" text-anchor="middle">alveolar MYF markers</text>
<g fill="#000"><rect x="9" y="-15" width="18" height="15"/><rect x="37.5" y="-15" width="18" height="15"/><rect x="66" y="-16.5" width="18" height="16.5"/><rect x="94.5" y="0" width="18" height="7.5"/><rect x="123" y="-57" width="18" height="57"/><rect x="151.5" y="-27" width="18" height="27"/></g>
<path d="M18 -15 V-25.5 M15 -25.5 H21 M46.5 -15 V-21 M43.5 -21 H49.5 M75 -16 V-21 M72 -21 H78 M103.5 7 V13.5 M100.5 13.5 H106.5 M132 -57 V-64.5 M129 -64.5 H135 M160.5 -27 V-36 M157.5 -36 H163.5" stroke="#000" stroke-width="1.2"/>
<text x="31" y="11" font-size="9">p=0.09</text><text x="57" y="-26" font-size="9">p=0.052</text>
<text x="132" y="-63" class="st" text-anchor="middle">*</text>
<g class="xl" text-anchor="end">
<text transform="translate(23,76) rotate(-50)">Pdgfra</text><text transform="translate(51,76) rotate(-50)">Pdgfa</text><text transform="translate(80,76) rotate(-50)">Elastin</text><text transform="translate(108,76) rotate(-50)">Acta2</text><text transform="translate(137,76) rotate(-50)">Fgf9</text><text transform="translate(165,76) rotate(-50)">Fgfr4</text>
</g>
</g>
</svg>
</body></html>
